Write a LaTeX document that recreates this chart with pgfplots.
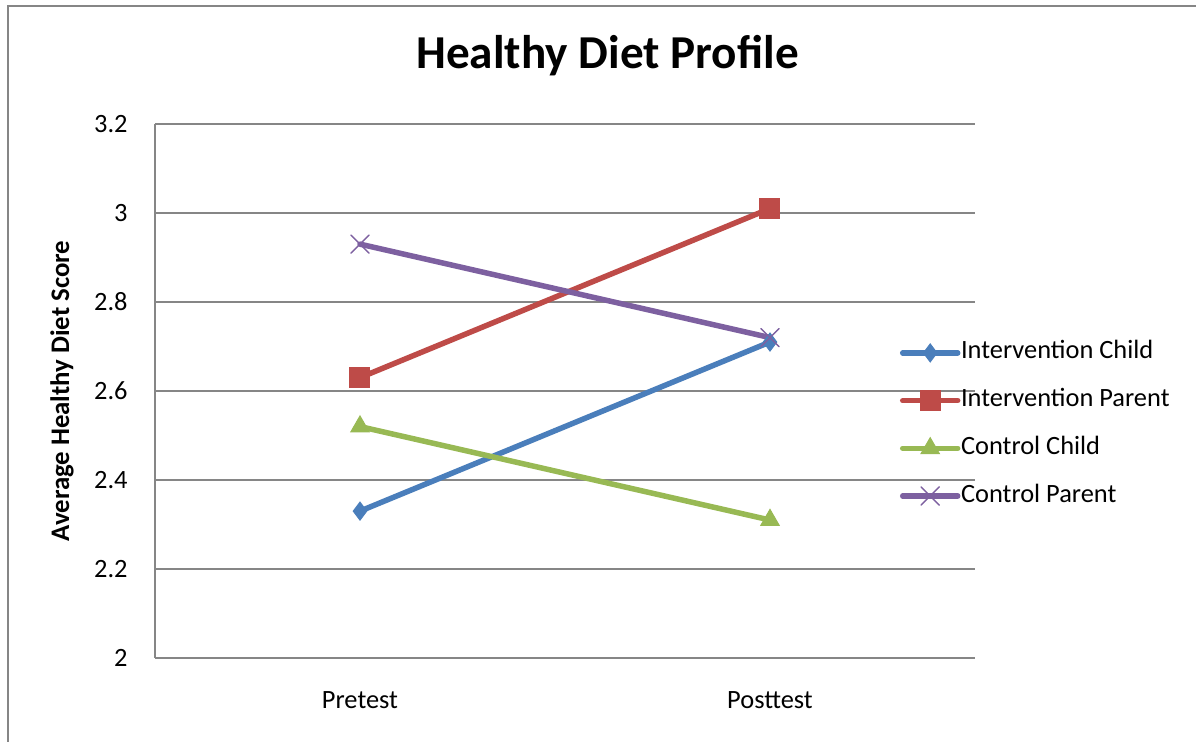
\documentclass[border=0pt]{standalone}
\usepackage{pgfplots}
\pgfplotsset{compat=1.18}
\usepackage{fontspec}
\setmainfont{Carlito}
\definecolor{icblue}{HTML}{4A7EBB}
\definecolor{ipred}{HTML}{BE4B48}
\definecolor{ccgreen}{HTML}{98B954}
\definecolor{cppurple}{HTML}{7D60A0}
\definecolor{gridgray}{HTML}{868686}
\begin{document}
\begin{tikzpicture}
\useasboundingbox (0,0) rectangle (598pt,371pt);
\draw[gridgray, line width=1pt] (4.15pt,-2pt) -- (4.15pt,368pt) -- (600pt,368pt);
\node[font=\bfseries\fontsize{23.6}{28}\selectfont, anchor=base] at (303.75pt,336.5pt) {Healthy Diet Profile};
\begin{axis}[
  at={(77.5pt,42pt)}, anchor=south west,
  scale only axis, width=410pt, height=267pt,
  xmin=-0.5, xmax=1.5, ymin=2, ymax=3.2,
  xtick={0,1}, xticklabels={Pretest,Posttest},
  ytick={2,2.2,2.4,2.6,2.8,3,3.2},
  axis x line*=bottom, axis y line*=left,
  axis line style={-, draw=gridgray, line width=0.65pt},
  major tick length=0pt,
  ymajorgrids, grid style={gridgray, line width=0.65pt},
  tick label style={font=\fontsize{13.2}{15}\selectfont},
  /pgf/number format/assume math mode=true,
  xticklabel style={anchor=base, yshift=-25.5pt},
  yticklabel style={anchor=east, inner sep=0pt, xshift=-13.5pt},
  ylabel={Average Healthy Diet Score},
  every axis y label/.style={at={(axis description cs:-0.1134,0.5)}, rotate=90, anchor=center, font=\bfseries\fontsize{13.4}{15}\selectfont},
  legend style={at={(axis description cs:0.9085,0.4373)}, anchor=west, draw=none, fill=none,
    inner sep=0pt, outer sep=0pt, font=\fontsize{13.2}{15}\selectfont, row sep=11.85pt,
    nodes={inner sep=0pt, text height=9pt, text depth=3pt},
    /tikz/every odd column/.append style={column sep=0.3pt}},
  legend cell align=left,
  legend image code/.code={\draw[mark repeat=2, mark phase=2, #1] plot coordinates {(0pt,0pt)(13.75pt,0pt)(27.5pt,0pt)};},
  clip=false,
]
\addplot[icblue, line width=2.75pt, line cap=round, mark=diamond*, mark size=4.5pt,
  mark options={solid, fill=icblue, draw=icblue, line width=0.5pt}]
  coordinates {(0,2.33) (1,2.71)};
\addlegendentry{Intervention Child}
\addplot[ipred, line width=2.75pt, line cap=round, mark=square*, mark size=5pt,
  mark options={solid, fill=ipred, draw=ipred, line width=0.5pt}]
  coordinates {(0,2.63) (1,3.01)};
\addlegendentry{Intervention Parent}
\addplot[ccgreen, line width=2.75pt, line cap=round, mark=triangle*, mark size=5.3pt,
  mark options={solid, fill=ccgreen, draw=ccgreen, line width=0.5pt}]
  coordinates {(0,2.52) (1,2.31)};
\addlegendentry{Control Child}
\addplot[cppurple, line width=2.75pt, line cap=round, mark=x, mark size=6.4pt,
  mark options={solid, draw=cppurple, line width=0.7pt}]
  coordinates {(0,2.93) (1,2.72)};
\addlegendentry{Control Parent}
\end{axis}
\end{tikzpicture}
\end{document}
